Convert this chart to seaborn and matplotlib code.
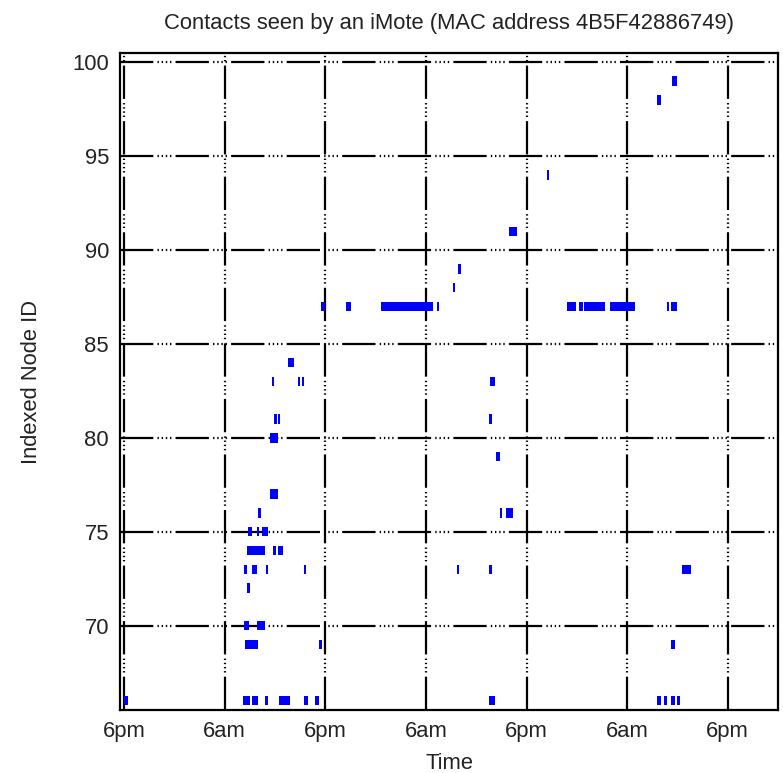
import matplotlib
matplotlib.use("Agg")
import matplotlib.pyplot as plt
import seaborn as sns
import pandas as pd

# contacts: node id, start hour, end hour (hour 0 = 6pm of day 1)
nodes = [66]*12 + [69]*3 + [70]*2 + [72] + [73]*7 + [74]*3 + [75]*3 + [76]*3 + [77] + [79] + [80] + [81]*3 + [83]*4 + [84] + [87]*10 + [88] + [89] + [91] + [94] + [98] + [99]
starts = [0.0, 14.2, 15.2, 16.85, 18.5, 21.4, 22.8, 43.5, 63.6, 64.4, 65.2, 66.0,
          14.4, 23.3, 65.2,
          14.3, 15.9,
          14.7,
          14.3, 15.3, 16.9, 21.4, 39.7, 43.5, 66.6,
          14.7, 17.8, 18.3,
          14.8, 15.8, 16.5,
          16.0, 44.8, 45.6,
          17.4,
          44.3,
          17.4,
          17.9, 18.3, 43.5,
          17.6, 20.7, 21.2, 43.7,
          19.6,
          23.5, 26.5, 30.6, 37.3, 52.8, 54.2, 54.9, 57.9, 64.7, 65.2,
          39.2,
          39.8,
          45.9,
          50.4,
          63.6,
          65.4]
ends = [0.5, 15.0, 16.0, 17.15, 19.8, 21.9, 23.3, 44.2, 64.1, 64.7, 65.7, 66.3,
        16.0, 23.6, 65.7,
        14.9, 16.8,
        15.0,
        14.6, 15.8, 17.2, 21.7, 40.0, 43.9, 67.6,
        16.8, 18.1, 19.0,
        15.3, 16.1, 17.1,
        16.3, 45.1, 46.4,
        18.4,
        44.8,
        18.4,
        18.2, 18.6, 43.9,
        17.9, 21.0, 21.5, 44.2,
        20.3,
        23.9, 27.0, 36.9, 37.6, 53.9, 54.7, 57.4, 60.9, 65.0, 66.0,
        39.5,
        40.2,
        46.9,
        50.7,
        64.1,
        66.0]

x_ticks = [0, 12, 24, 36, 48, 60, 72]
x_tick_labels = ["6pm", "6am", "6pm", "6am", "6pm", "6am", "6pm"]
y_ticks = [70, 75, 80, 85, 90, 95, 100]

df = pd.DataFrame({"node": nodes, "start": starts, "end": ends})
df["dur"] = df["end"] - df["start"]

sns.set_theme(style="white")
plt.rcParams["font.family"] = ["Liberation Sans", "DejaVu Sans"]
plt.rcParams["lines.scale_dashes"] = False

fig = plt.figure(figsize=(7.83, 7.73), dpi=100)
ax = fig.add_axes([120/783, 1-710/773, 658/783, 657/773])

ax.barh(df["node"], df["dur"], left=df["start"], height=0.5,
        color="#0000ff", edgecolor="none", zorder=3)

ax.set_xlim(-0.5, 78)
ax.set_ylim(65.5, 100.5)
ax.set_xticks(x_ticks)
ax.set_xticklabels(x_tick_labels)
ax.set_yticks(y_ticks)

grid_style = (0, (24, 3, 1, 2, 1, 2, 1, 2, 1, 3))
for xv in x_ticks:
    ax.axvline(xv, color="black", lw=1.6, linestyle=grid_style, zorder=1)
for yv in y_ticks:
    ax.axhline(yv, color="black", lw=1.6, linestyle=grid_style, zorder=1)

for s in ax.spines.values():
    s.set_visible(True)
    s.set_color("black")
    s.set_linewidth(1.6)

fs = 15.8
ax.tick_params(axis="both", direction="in", length=5, width=1.2, color="black",
               labelsize=fs, labelcolor="#222222", pad=8)

ax.set_xlabel("Time", fontsize=fs, color="#222222", labelpad=8)
ax.set_ylabel("Indexed Node ID", fontsize=fs, color="#222222", labelpad=22)
ax.set_title("Contacts seen by an iMote (MAC address 4B5F42886749)",
             fontsize=fs, color="#222222", pad=17)

fig.savefig("out.png", dpi=100)
